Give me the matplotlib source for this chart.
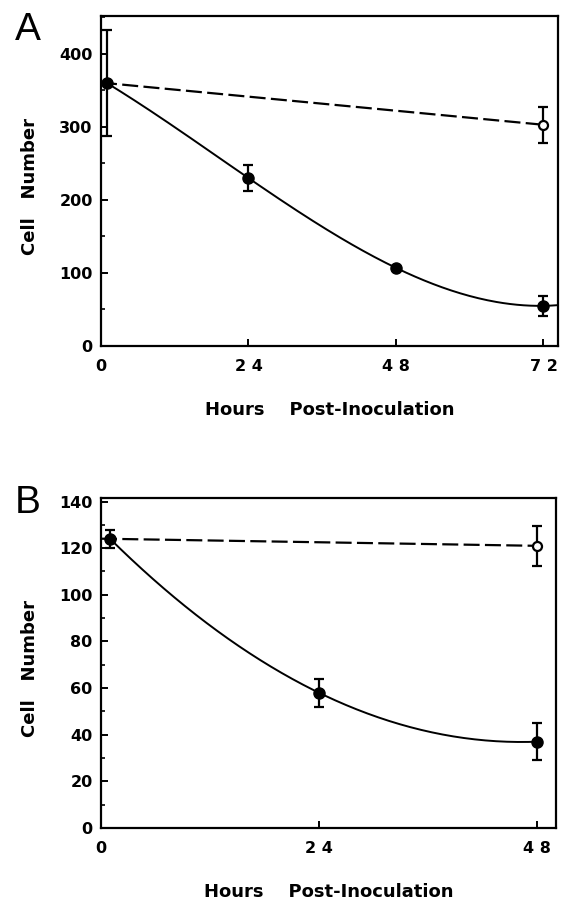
import numpy as np
import matplotlib
matplotlib.use("Agg")
import matplotlib.pyplot as plt
from matplotlib.ticker import MultipleLocator

plt.rcParams['font.family'] = ['DejaVu Sans']

# panel A
hours_a = [1, 24, 48, 72]
treated_a = [360, 230, 107, 55]
treated_a_err = [73, 18, 3, 14]
control_a_hours = [1, 72]
control_a = [360, 303]
control_a_err = [0, 25]
xticks_a = [0, 24, 48, 72]
xlabels_a = ["0", "2 4", "4 8", "7 2"]

# panel B
hours_b = [1, 24, 48]
treated_b = [124, 58, 37]
treated_b_err = [4, 6, 8]
control_b_hours = [1, 48]
control_b = [124, 121]
control_b_err = [0, 8.5]
xticks_b = [0, 24, 48]
xlabels_b = ["0", "2 4", "4 8"]


def style_axes(ax):
    for s in ax.spines.values():
        s.set_linewidth(1.6)
    ax.tick_params(axis='both', which='major', direction='in', length=5,
                   width=1.4, labelsize=11.5)
    ax.tick_params(axis='both', which='minor', direction='in', length=3,
                   width=1.2)
    ax.tick_params(axis='x', pad=9.5)
    ax.tick_params(axis='y', pad=6)
    for lab in ax.get_xticklabels() + ax.get_yticklabels():
        lab.set_fontweight('bold')


def draw_panel(ax, hours, treated, terr, ch, ctrl, cerr, x_end, xmax):
    deg = min(3, len(hours) - 1)
    fit = np.polyfit(hours, treated, deg)
    xs = np.linspace(hours[0], x_end, 200)
    ax.plot(xs, np.polyval(fit, xs), color='black', lw=1.4, zorder=2)
    cfit = np.polyfit(ch, ctrl, 1)
    xc = np.linspace(0, ch[-1], 50)
    ax.plot(xc, np.polyval(cfit, xc), color='black', lw=1.6,
            dashes=(7.2, 2.4), zorder=2)
    ax.errorbar(hours, treated, yerr=terr, fmt='o', color='black', ms=8,
                capsize=3.5, elinewidth=1.6, capthick=1.6, zorder=3)
    ax.errorbar(ch[1:], ctrl[1:], yerr=cerr[1:], fmt='o', mfc='white',
                mec='black', mew=1.6, ms=6.5, color='black', capsize=3.5,
                elinewidth=1.6, capthick=1.6, zorder=3)
    ax.set_xlim(0, xmax)


fig = plt.figure(figsize=(5.61, 9.05), dpi=100)
ax_a = fig.add_axes([0.180, 0.6177, 0.814, 0.3646])
ax_b = fig.add_axes([0.180, 0.0851, 0.811, 0.3646])

draw_panel(ax_a, hours_a, treated_a, treated_a_err, control_a_hours,
           control_a, control_a_err, 74.3, 74.3)
ax_a.set_ylim(0, 452)
ax_a.set_yticks([0, 100, 200, 300, 400])
ax_a.yaxis.set_minor_locator(MultipleLocator(50))
ax_a.set_xticks(xticks_a)
ax_a.set_xticklabels(xlabels_a)
style_axes(ax_a)

draw_panel(ax_b, hours_b, treated_b, treated_b_err, control_b_hours,
           control_b, control_b_err, 48, 50.1)
ax_b.set_ylim(0, 141.5)
ax_b.set_yticks(range(0, 141, 20))
ax_b.yaxis.set_minor_locator(MultipleLocator(10))
ax_b.set_xticks(xticks_b)
ax_b.set_xticklabels(xlabels_b)
style_axes(ax_b)

for ax, letter, ly in [(ax_a, "A", 0.987), (ax_b, "B", 0.4645)]:
    ax.set_ylabel("Cell   Number", fontsize=13, fontweight='bold',
                  va='center', ha='center')
    ax.yaxis.set_label_coords(-0.156, 0.484)
    ax.set_xlabel("Hours    Post-Inoculation", fontsize=13, fontweight='bold',
                  va='center', ha='center')
    ax.xaxis.set_label_coords(0.5, -0.195)
    fig.text(0.026, ly, letter, fontsize=28, va='top', ha='left',
             family='Liberation Sans')

fig.savefig("out.png", dpi=100)
